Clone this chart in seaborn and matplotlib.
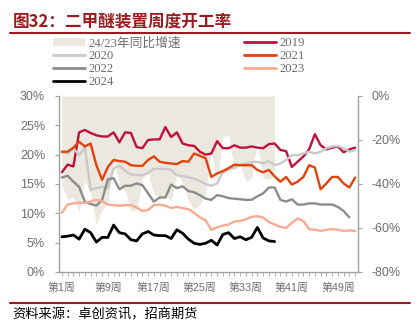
import matplotlib
matplotlib.use("Agg")
import matplotlib.pyplot as plt
import seaborn as sns
import pandas as pd
from matplotlib.lines import Line2D
from matplotlib.patches import Patch
from matplotlib.ticker import FuncFormatter

# ---- data: weekly operating rate of DME units (%) ----
weeks = list(range(1, 53))

rate_2019 = [17.0, 18.3, 18.0, 23.8, 24.2, 23.7, 23.3, 23.1, 23.1, 23.8, 22.1, 23.8, 23.7,
             21.3, 21.1, 22.5, 22.6, 22.6, 24.7, 23.0, 23.8, 21.9, 21.6, 21.5, 20.5, 20.0,
             20.2, 22.3, 21.1, 21.1, 21.6, 21.2, 21.2, 21.4, 21.2, 21.1, 21.8, 21.9, 20.8,
             20.6, 17.9, 18.8, 19.7, 20.9, 23.5, 21.6, 20.9, 21.2, 21.4, 20.4, 20.9, 21.2]

rate_2020 = [20.4, 20.2, 21.1, 19.9, 21.3, 14.0, 14.3, 14.5, 14.3, 17.7, 18.1, 17.3, 16.6,
             16.5, 16.5, 16.9, 17.6, 17.6, 17.6, 17.4, 16.5, 16.3, 16.2, 15.9, 15.5, 15.0,
             14.7, 15.1, 17.0, 17.4, 17.8, 18.3, 18.5, 18.7, 18.8, 18.5, 18.9, 18.2, 18.5,
             19.1, 19.9, 19.9, 20.2, 20.5, 20.2, 20.5, 21.1, 21.4, 21.5, 21.1, 20.5, 20.8]

rate_2021 = [20.5, 20.5, 21.2, 22.2, 21.4, 21.9, 18.2, 15.7, 17.9, 19.1, 18.9, 18.8, 18.2,
             18.1, 18.1, 19.1, 19.7, 18.8, 18.6, 18.5, 18.4, 18.9, 18.8, 20.2, 19.8, 19.4,
             16.2, 16.8, 17.2, 17.7, 18.3, 18.2, 18.2, 18.2, 17.4, 17.0, 17.4, 16.3, 15.4,
             16.2, 14.9, 15.4, 16.2, 18.2, 17.8, 14.1, 15.1, 16.2, 16.2, 15.1, 14.4, 16.1]

rate_2022 = [16.1, 16.4, 15.4, 14.5, 12.0, 11.6, 11.3, 12.3, 15.8, 16.0, 14.1, 14.7, 14.7,
             15.1, 14.8, 13.4, 12.0, 12.7, 12.7, 14.9, 14.3, 14.6, 13.8, 13.6, 13.1, 12.5,
             12.3, 13.1, 12.9, 12.6, 12.5, 12.4, 12.3, 12.3, 12.9, 13.4, 14.4, 14.4, 12.3,
             12.0, 12.4, 11.5, 11.5, 11.7, 11.7, 11.5, 11.5, 11.5, 11.1, 10.4, 9.3]

rate_2023 = [10.1, 11.5, 11.7, 11.8, 11.8, 12.0, 12.3, 12.1, 11.5, 11.4, 11.3, 11.4, 11.4,
             11.0, 10.4, 10.6, 11.4, 11.5, 11.3, 10.9, 11.1, 10.9, 10.7, 10.1, 9.3, 8.8,
             7.2, 7.6, 7.9, 8.1, 8.6, 8.7, 9.0, 9.4, 9.5, 9.3, 8.5, 8.1, 7.7,
             7.5, 8.4, 9.1, 8.7, 7.3, 7.2, 7.0, 7.2, 7.3, 7.2, 7.0, 7.1, 7.0]

rate_2024 = [6.0, 6.1, 6.3, 5.6, 7.3, 6.7, 5.1, 5.9, 5.9, 8.0, 6.7, 6.5, 5.5,
             5.3, 6.5, 6.9, 6.3, 6.2, 6.2, 5.7, 7.2, 6.6, 5.6, 4.9, 4.7, 4.9,
             5.4, 4.6, 6.4, 6.7, 5.7, 6.0, 5.5, 5.9, 7.6, 5.8, 5.3, 5.2]

# 2024 vs 2023 year-on-year change (%), right axis
yoy_24_23 = [-40.6, -47.0, -46.2, -52.5, -38.1, -44.2, -58.5, -51.7, -48.7, -29.8, -40.4,
             -43.0, -52.2, -51.8, -37.5, -34.9, -44.7, -46.1, -44.9, -47.7, -35.1, -39.4,
             -47.7, -51.5, -49.5, -44.3, -25.0, -39.5, -19.0, -17.3, -33.7, -31.0, -38.9,
             -37.2, -20.0, -37.6, -37.6, -35.8]

tick_weeks = [1, 9, 17, 25, 33, 41, 49]
series_names = ["2019", "2020", "2021", "2022", "2023", "2024"]
area_name = "24/23年同比增速"

# ---- styling ----
colors = {"2019": "#C3103A", "2020": "#C9C9C9", "2021": "#E2420C",
          "2022": "#8C8C8C", "2023": "#F9AA92", "2024": "#000000"}
widths = {"2019": 1.7, "2020": 1.7, "2021": 1.7, "2022": 1.7, "2023": 1.7, "2024": 2.0}
area_color = "#EBE8DF"
axis_gray = "#A0A0A0"
label_gray = "#6E6E6E"
title_red = "#9B1B1F"

sns.set_theme(style="white")
plt.rcParams["font.family"] = ["Liberation Sans", "Noto Sans CJK SC", "DejaVu Sans"]

fig = plt.figure(figsize=(4.2, 3.32), dpi=100)
ax = fig.add_axes([59 / 420, 1 - 272 / 332, 299 / 420, 176 / 332])
ax2 = ax.twinx()

# YoY area on the secondary axis, hanging down from 0%
area_df = pd.DataFrame({"week": weeks[:len(yoy_24_23)], "yoy": yoy_24_23})
ax2.fill_between(area_df["week"], area_df["yoy"], 0, color=area_color, lw=0)
ax2.set_ylim(-80, 0)
ax2.set_yticks([-80, -60, -40, -20, 0])
ax2.yaxis.set_major_formatter(FuncFormatter(lambda v, p: f"{v:.0f}%"))

# operating-rate lines on the primary axis
all_series = {"2019": rate_2019, "2020": rate_2020, "2021": rate_2021,
              "2022": rate_2022, "2023": rate_2023, "2024": rate_2024}
long_df = pd.concat(
    [pd.DataFrame({"week": weeks[:len(v)], "rate": v, "year": k}) for k, v in all_series.items()],
    ignore_index=True)
for name in series_names:
    sub = long_df[long_df["year"] == name]
    sns.lineplot(data=sub, x="week", y="rate", ax=ax, color=colors[name],
                 linewidth=widths[name], legend=False, solid_joinstyle="round")

ax.set_zorder(ax2.get_zorder() + 1)
ax.patch.set_visible(False)

ax.set_xlim(0.5, 52.5)
ax.set_ylim(0, 30)
ax.set_yticks(range(0, 31, 5))
ax.yaxis.set_major_formatter(FuncFormatter(lambda v, p: f"{v:.0f}%"))
ax.set_xticks(weeks)
ax.set_xticklabels([f"第{w}周" if w in tick_weeks else "" for w in weeks])
ax.set_xlabel("")
ax.set_ylabel("")

for a in (ax, ax2):
    for s in a.spines.values():
        s.set_visible(False)
ax.spines["left"].set_visible(True)
ax.spines["bottom"].set_visible(True)
ax2.spines["right"].set_visible(True)
for s in (ax.spines["left"], ax.spines["bottom"], ax2.spines["right"]):
    s.set_color(axis_gray)
    s.set_linewidth(1.0)

ax.tick_params(axis="y", direction="out", length=3, width=0.8, color=axis_gray,
               labelcolor=label_gray, labelsize=9, pad=7, left=True)
ax.tick_params(axis="x", direction="out", length=3, width=0.6, color=axis_gray,
               labelcolor=label_gray, labelsize=7.8, pad=5, bottom=True)
ax2.tick_params(axis="y", direction="out", length=3, width=0.8, color=axis_gray,
                labelcolor=label_gray, labelsize=9, pad=7, right=True)
ax.grid(False)
ax2.grid(False)

# legend (two columns above the plot)
handles = [Patch(facecolor=area_color, edgecolor="none")]
labels = [area_name]
for name in ["2020", "2022", "2024", "2019", "2021", "2023"]:
    handles.append(Line2D([], [], color=colors[name], lw=2.0))
    labels.append(name)
fig.legend(handles, labels, ncol=2, loc="upper left",
           bbox_to_anchor=(53 / 420, 1 - 37 / 332), frameon=False,
           prop={"family": ["Liberation Serif", "Noto Sans CJK SC"], "size": 9.2},
           labelcolor=label_gray, handlelength=2.5, handleheight=0.55,
           handletextpad=0.3, labelspacing=0.06, columnspacing=4.9,
           borderpad=0, borderaxespad=0)

# title, rules and source
fig.text(13 / 420, 1 - 22 / 332, "图32：二甲醚装置周度开工率", fontsize=12, fontweight="bold",
         color=title_red, va="center", ha="left", family=["Noto Sans CJK SC", "DejaVu Sans"])
fig.add_artist(Line2D([10 / 420, 410 / 420], [1 - 33 / 332] * 2, color=title_red, lw=1.5))
fig.add_artist(Line2D([10 / 420, 410 / 420], [1 - 303 / 332] * 2, color=title_red, lw=1.5))
fig.text(12 / 420, 1 - 315 / 332, "资料来源：卓创资讯，招商期货", fontsize=9.5,
         color="#000000", va="center", ha="left", family=["Noto Sans CJK SC", "DejaVu Sans"])

fig.savefig("out.png", dpi=100)
